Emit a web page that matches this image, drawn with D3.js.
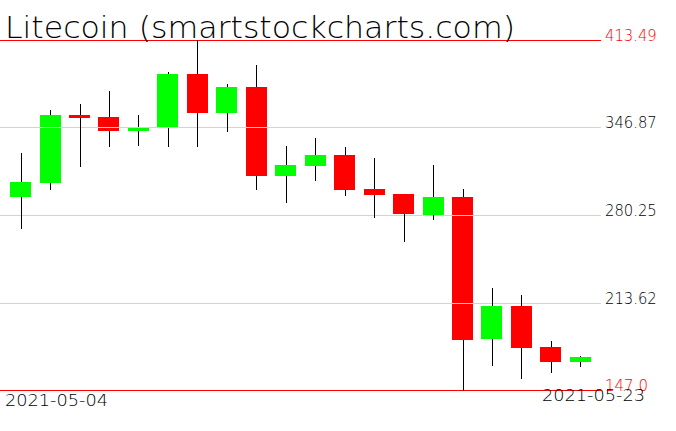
<!DOCTYPE html>
<html>
<head>
<meta charset="utf-8">
<script src="https://cdn.jsdelivr.net/npm/d3@7"></script>
<style>
  body { margin: 0; background: #fff; }
  svg { display: block; }
  text { font-family: "DejaVu Sans", sans-serif; font-weight: 200; }
</style>
</head>
<body>
<div id="chart"></div>
<script>
// daily candles, Litecoin 2021-05-04 .. 2021-05-23
var dates = ["2021-05-04","2021-05-05","2021-05-06","2021-05-07","2021-05-08","2021-05-09","2021-05-10",
  "2021-05-11","2021-05-12","2021-05-13","2021-05-14","2021-05-15","2021-05-16","2021-05-17","2021-05-18",
  "2021-05-19","2021-05-20","2021-05-21","2021-05-22","2021-05-23"];
var opens  = [294.18,304.84,356.38,354.86,344.43,346.71,387.83,358.14,377.70,310.17,317.78,325.93,300.04,296.23,280.24,294.18,185.83,210.96,179.74,168.55];
var highs  = [327.68,360.19,364.76,374.89,356.38,389.35,413.49,379.99,394.45,333.01,339.10,332.25,323.87,296.60,318.31,300.04,224.66,219.33,184.31,172.89];
var lows   = [270.12,300.27,317.78,333.01,333.77,333.01,333.01,344.43,300.27,290.37,307.12,295.47,278.95,260.45,277.43,147.00,166.03,156.36,160.93,165.50];
var closes = [305.60,356.38,354.33,344.43,347.48,387.83,358.14,377.70,310.17,318.54,325.93,299.28,295.47,281.01,293.95,185.07,210.96,179.21,168.55,172.13];

var yTicks = [413.49, 346.87, 280.25, 213.62, 147.0];
var yTickLabels = ["413.49","346.87","280.25","213.62","147.0"];
var title = "Litecoin (smartstockcharts.com)";

var draw = function(){
	var svg = d3.select("#chart").append("svg").attr("width", 676).attr("height", 431).append("g");

	var x = d3.scaleBand().domain(dates).range([6, 595]).paddingInner(0.285).paddingOuter(0.14);
	var y = d3.scaleLinear().domain([147.0, 413.49]).range([390, 40]);

	var candles = dates.map(function(d, i){
		return {date: d, o: opens[i], h: highs[i], l: lows[i], c: closes[i]};
	});

	var cx = function(d){ return Math.round(x(d.date) + x.bandwidth()/2) + 0.5; };

	// bodies
	svg.append("g").selectAll(".body").data(candles).enter()
		.append("rect").attr("class","body")
		.attr("x", function(d){ return Math.round(x(d.date)); })
		.attr("width", Math.round(x.bandwidth()))
		.attr("y", function(d){ return Math.round(y(Math.max(d.o, d.c))); })
		.attr("height", function(d){ return Math.max(2, Math.round(Math.abs(y(d.o) - y(d.c)))); })
		.attr("fill", function(d){ return d.c >= d.o ? "#00ff00" : "#ff0000"; })
		.attr("shape-rendering", "crispEdges");

	// horizontal lines (min / max in red, the rest gray)
	svg.append("g").selectAll(".grid").data(yTicks).enter()
		.append("line").attr("class","grid")
		.attr("x1", 0).attr("x2", 601)
		.attr("y1", function(d){ return Math.round(y(d)) + 0.5; })
		.attr("y2", function(d){ return Math.round(y(d)) + 0.5; })
		.attr("stroke", function(d,i){ return (i == 0 || i == yTicks.length-1) ? "#ff0000" : "#d3d3d3"; })
		.attr("stroke-width", 1);

	// wicks, upper and lower part
	svg.append("g").selectAll(".wickup").data(candles).enter()
		.append("line").attr("class","wick")
		.attr("x1", cx).attr("x2", cx)
		.attr("y1", function(d){ return Math.round(y(d.h)); })
		.attr("y2", function(d){ return Math.round(y(Math.max(d.o, d.c))); })
		.attr("stroke", "#000").attr("stroke-width", 1);

	svg.append("g").selectAll(".wickdn").data(candles).enter()
		.append("line").attr("class","wick")
		.attr("x1", cx).attr("x2", cx)
		.attr("y1", function(d){ return Math.round(y(Math.min(d.o, d.c))); })
		.attr("y2", function(d){ return Math.round(y(d.l)) + 1; })
		.attr("stroke", "#000").attr("stroke-width", 1);

	// price labels on the right
	svg.append("g").selectAll(".ylab").data(yTicks).enter()
		.append("text").attr("class","ylab")
		.attr("x", 605)
		.attr("y", function(d){ return Math.round(y(d)) + 1; })
		.attr("font-size", "15px")
		.attr("textLength", function(d,i){ return yTickLabels[i].length * 8.8 - 1; })
		.attr("lengthAdjust", "spacingAndGlyphs")
		.attr("fill", function(d,i){ return (i == 0 || i == yTicks.length-1) ? "#ff0000" : "#000"; })
		.text(function(d,i){ return yTickLabels[i]; });

	// first / last dates
	svg.append("text")
		.attr("x", 5).attr("y", 406)
		.attr("font-size", "15px")
		.attr("textLength", 103).attr("lengthAdjust", "spacingAndGlyphs")
		.text(dates[0]);

	svg.append("text")
		.attr("x", 542).attr("y", 401)
		.attr("font-size", "15px")
		.attr("textLength", 103).attr("lengthAdjust", "spacingAndGlyphs")
		.text(dates[dates.length-1]);

	svg.append("text")
		.attr("x", 5).attr("y", 38)
		.attr("font-size", "30px")
		.attr("textLength", 510).attr("lengthAdjust", "spacingAndGlyphs")
		.text(title);
};

window.onload = function(){
	draw();
};
</script>
</body>
</html>
